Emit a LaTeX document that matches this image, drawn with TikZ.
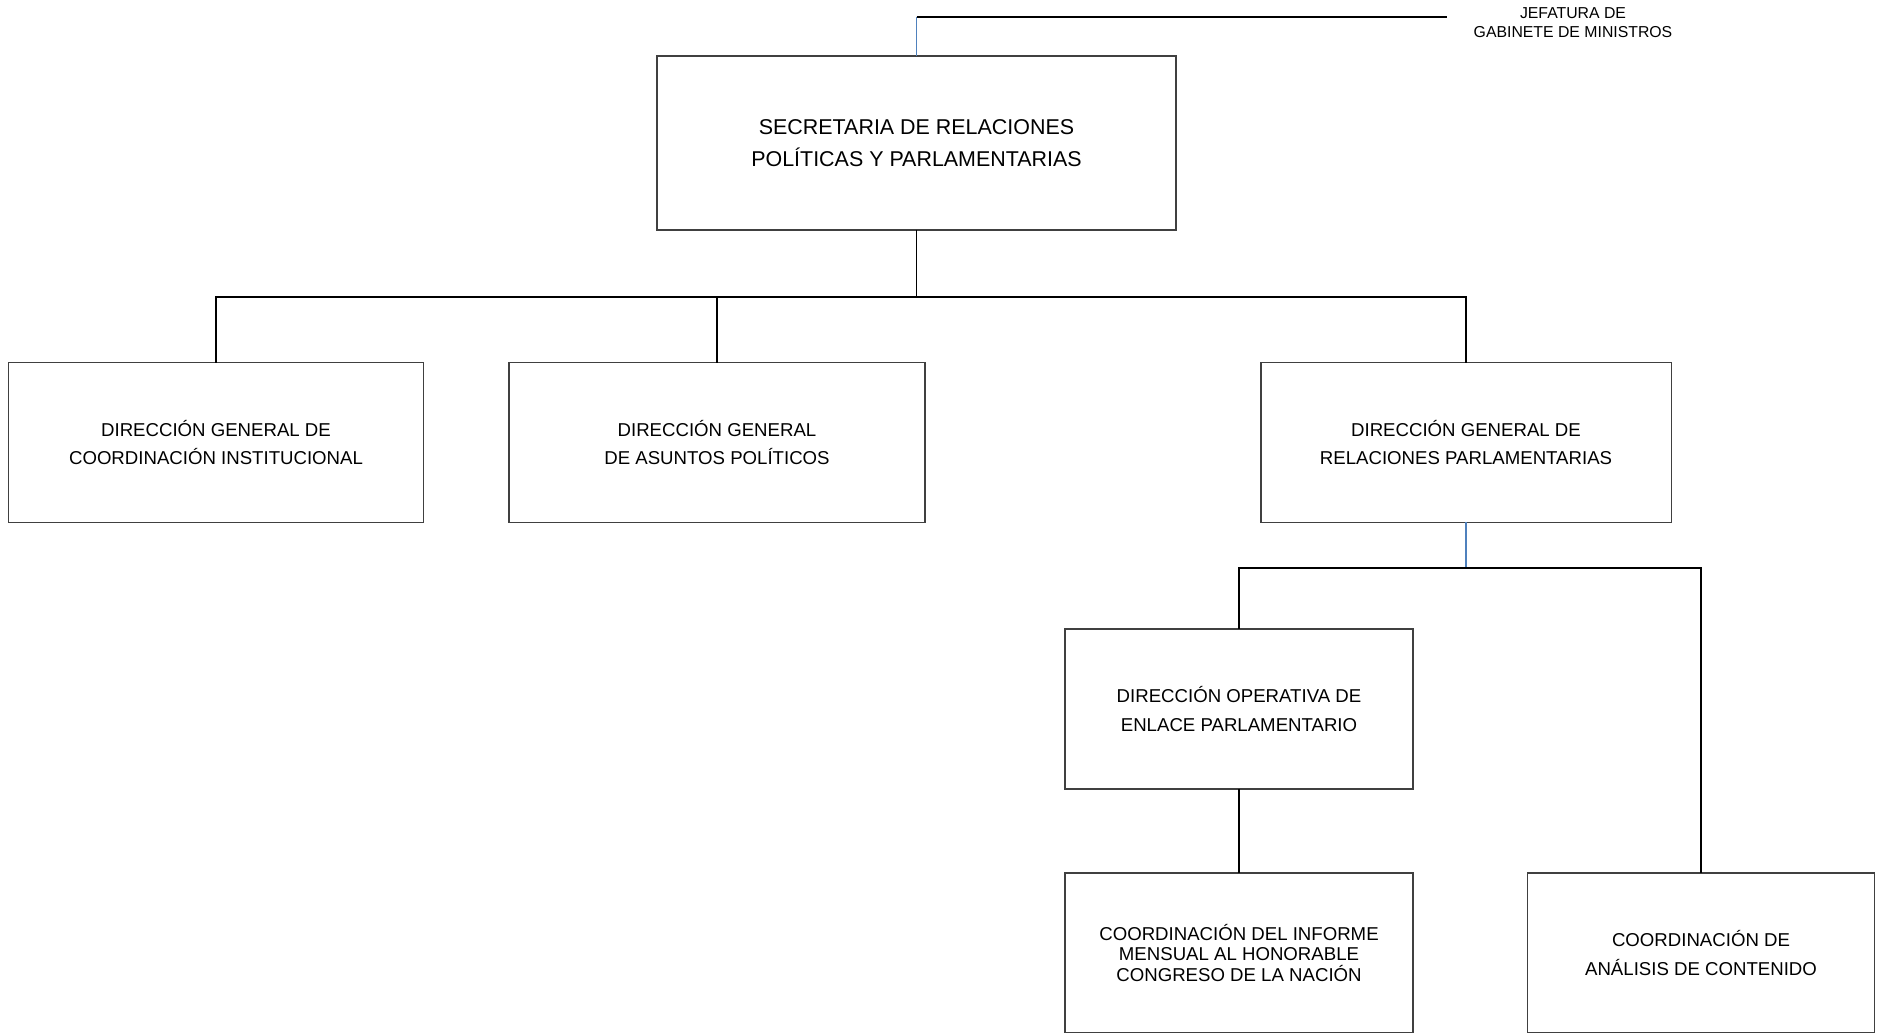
\documentclass[tikz,border=0pt]{standalone}
\usepackage{fontspec}
\setmainfont{Liberation Sans}
\definecolor{linkblue}{RGB}{79,129,189}
\tikzset{
  unit/.style={draw=black!75, line width=0.8pt, inner sep=0pt, outer sep=0pt,
    align=center, minimum height=3.2cm, font=\fontsize{10.6}{16.4}\selectfont},
  headunit/.style={unit, minimum width=10.38cm, minimum height=3.48cm,
    font=\fontsize{12.2}{18.2}\selectfont},
  smallunit/.style={unit, minimum width=6.96cm},
  link/.style={draw=black, line width=1.1pt},
  bluelink/.style={draw=linkblue, line width=0.9pt}
}
\begin{document}
\begin{tikzpicture}[x=0.02cm,y=-0.02cm]
      \useasboundingbox (0,0) rectangle (1883,1033);
      \draw
        (916.5,143) node[headunit] (srpp){SECRETARIA DE RELACIONES\\POLÍTICAS Y PARLAMENTARIAS}
        (216,442.5) node[unit, minimum width=8.31cm] (dgci){DIRECCIÓN GENERAL DE\\COORDINACIÓN INSTITUCIONAL}
        (717,442.5) node[unit, minimum width=8.32cm] (dgap){DIRECCIÓN GENERAL\\DE ASUNTOS POLÍTICOS}
        (1466,442.5) node[unit, minimum width=8.21cm] (dgrp){DIRECCIÓN GENERAL DE\\RELACIONES PARLAMENTARIAS}
        (1239,709) node[smallunit] (doep){DIRECCIÓN OPERATIVA DE\\ENLACE PARLAMENTARIO}
        (1239,953) node[smallunit, font=\fontsize{10.6}{11.4}\selectfont] (cimh){COORDINACIÓN DEL INFORME\\MENSUAL AL HONORABLE\\CONGRESO DE LA NACIÓN}
        (1701,953) node[smallunit, minimum width=6.94cm] (cac){COORDINACIÓN DE\\ANÁLISIS DE CONTENIDO};
      \node[align=center, font=\fontsize{9}{10.8}\selectfont] (jgm) at (1573,22.7) {JEFATURA DE\\GABINETE DE MINISTROS};
      \coordinate (top) at (916.5,16.8);
      \coordinate (topend) at (1447,16.8);
      \coordinate (bus1) at (916.5,296.6);
      \coordinate (bus2) at (1466,568);
      \begin{scope}[-]
        \draw[link] (top) to (topend);
        \draw[bluelink] (srpp) to (top);
        \draw[link] (srpp) to (bus1);
        \draw[link] (bus1) -| (dgci.north);
        \draw[link] (bus1) -| (dgap.north);
        \draw[link] (bus1) -| (dgrp.north);
        \draw[bluelink] (dgrp) to (bus2);
        \draw[link] (bus2) -| (doep.north);
        \draw[link] (bus2) -| (cac.north);
        \draw[link] (doep) to (cimh);
      \end{scope}
    \end{tikzpicture}
\end{document}
